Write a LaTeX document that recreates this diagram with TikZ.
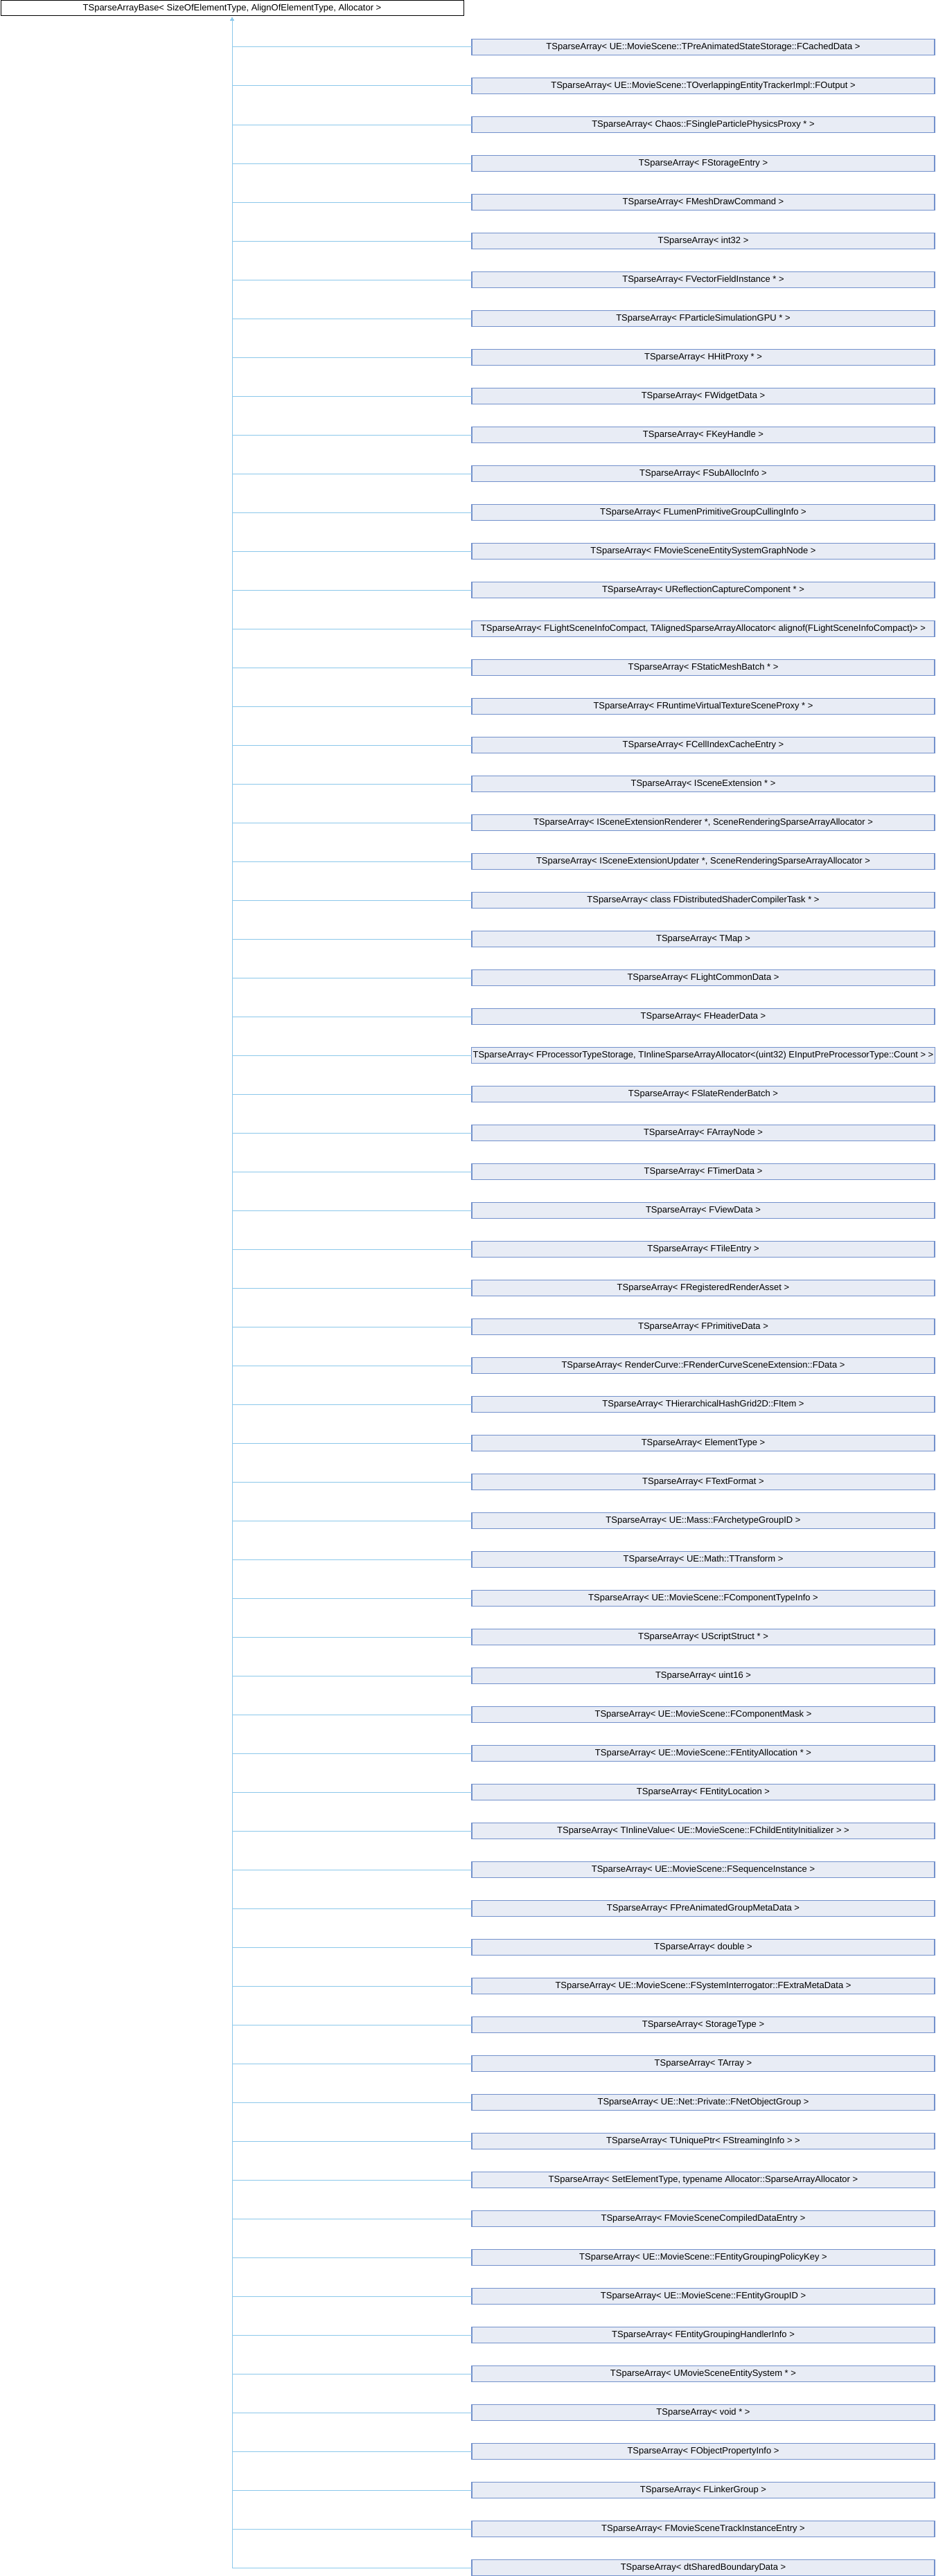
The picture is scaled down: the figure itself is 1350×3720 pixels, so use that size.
\documentclass[tikz,border=0pt]{standalone}
\usepackage{fontspec}
\setmainfont{Liberation Sans}
\usepackage{xcolor}
\usepackage{tikz}
\usetikzlibrary{arrows.meta,positioning}
\definecolor{edgeblue}{HTML}{8CC8EA}
\definecolor{boxfill}{HTML}{E8ECF5}
\definecolor{boxline}{HTML}{7391CC}

\begin{document}
\begin{tikzpicture}[
    x=1pt,y=1pt,node distance=33.5pt,
    parentbox/.style={draw=black,line width=1pt,fill=white,minimum width=668pt,
                      minimum height=22pt,inner sep=0pt,outer sep=0pt,
                      font=\fontsize{13pt}{15pt}\selectfont},
    childbox/.style={draw=boxline,line width=1.3pt,fill=boxfill,minimum width=668pt,
                     minimum height=22.5pt,inner xsep=2pt,inner ysep=0pt,outer sep=0pt,
                     font=\fontsize{13pt}{15pt}\selectfont},
    inh/.style={-{Latex[length=5pt,width=6pt]},shorten >=2pt,line width=1pt,color=edgeblue}
  ]
    \useasboundingbox (0,0) rectangle (1350,-3720);
    \node[parentbox] (base) at (335,-12) {TSparseArrayBase< SizeOfElementType, AlignOfElementType, Allocator >};
    \node[childbox,below right=33.75pt and 12pt of base.south east] (cached) {TSparseArray< UE::MovieScene::TPreAnimatedStateStorage::FCachedData >};
    \node[childbox,below=of cached] (overlap) {TSparseArray< UE::MovieScene::TOverlappingEntityTrackerImpl::FOutput >};
    \node[childbox,below=of overlap] (chaos) {TSparseArray< Chaos::FSingleParticlePhysicsProxy * >};
    \node[childbox,below=of chaos] (storage) {TSparseArray< FStorageEntry >};
    \node[childbox,below=of storage] (meshdraw) {TSparseArray< FMeshDrawCommand >};
    \node[childbox,below=of meshdraw] (int32) {TSparseArray< int32 >};
    \node[childbox,below=of int32] (vecfield) {TSparseArray< FVectorFieldInstance * >};
    \node[childbox,below=of vecfield] (partsim) {TSparseArray< FParticleSimulationGPU * >};
    \node[childbox,below=of partsim] (hitproxy) {TSparseArray< HHitProxy * >};
    \node[childbox,below=of hitproxy] (widget) {TSparseArray< FWidgetData >};
    \node[childbox,below=of widget] (keyhandle) {TSparseArray< FKeyHandle >};
    \node[childbox,below=of keyhandle] (suballoc) {TSparseArray< FSubAllocInfo >};
    \node[childbox,below=of suballoc] (lumen) {TSparseArray< FLumenPrimitiveGroupCullingInfo >};
    \node[childbox,below=of lumen] (graphnode) {TSparseArray< FMovieSceneEntitySystemGraphNode >};
    \node[childbox,below=of graphnode] (reflcap) {TSparseArray< UReflectionCaptureComponent * >};
    \node[childbox,below=of reflcap] (lightinfo) {TSparseArray< FLightSceneInfoCompact, TAlignedSparseArrayAllocator< alignof(FLightSceneInfoCompact)> >};
    \node[childbox,below=of lightinfo] (meshbatch) {TSparseArray< FStaticMeshBatch * >};
    \node[childbox,below=of meshbatch] (rvtproxy) {TSparseArray< FRuntimeVirtualTextureSceneProxy * >};
    \node[childbox,below=of rvtproxy] (cellidx) {TSparseArray< FCellIndexCacheEntry >};
    \node[childbox,below=of cellidx] (sceneext) {TSparseArray< ISceneExtension * >};
    \node[childbox,below=of sceneext] (extrender) {TSparseArray< ISceneExtensionRenderer *, SceneRenderingSparseArrayAllocator >};
    \node[childbox,below=of extrender] (extupdate) {TSparseArray< ISceneExtensionUpdater *, SceneRenderingSparseArrayAllocator >};
    \node[childbox,below=of extupdate] (shadertask) {TSparseArray< class FDistributedShaderCompilerTask * >};
    \node[childbox,below=of shadertask] (tmap) {TSparseArray< TMap >};
    \node[childbox,below=of tmap] (lightcommon) {TSparseArray< FLightCommonData >};
    \node[childbox,below=of lightcommon] (header) {TSparseArray< FHeaderData >};
    \node[childbox,below=of header] (preproc) {TSparseArray< FProcessorTypeStorage, TInlineSparseArrayAllocator<(uint32) EInputPreProcessorType::Count > >};
    \node[childbox,below=of preproc] (slatebatch) {TSparseArray< FSlateRenderBatch >};
    \node[childbox,below=of slatebatch] (arraynode) {TSparseArray< FArrayNode >};
    \node[childbox,below=of arraynode] (timer) {TSparseArray< FTimerData >};
    \node[childbox,below=of timer] (view) {TSparseArray< FViewData >};
    \node[childbox,below=of view] (tile) {TSparseArray< FTileEntry >};
    \node[childbox,below=of tile] (renderasset) {TSparseArray< FRegisteredRenderAsset >};
    \node[childbox,below=of renderasset] (primdata) {TSparseArray< FPrimitiveData >};
    \node[childbox,below=of primdata] (curvedata) {TSparseArray< RenderCurve::FRenderCurveSceneExtension::FData >};
    \node[childbox,below=of curvedata] (hashgrid) {TSparseArray< THierarchicalHashGrid2D::FItem >};
    \node[childbox,below=of hashgrid] (elemtype) {TSparseArray< ElementType >};
    \node[childbox,below=of elemtype] (textfmt) {TSparseArray< FTextFormat >};
    \node[childbox,below=of textfmt] (archgroup) {TSparseArray< UE::Mass::FArchetypeGroupID >};
    \node[childbox,below=of archgroup] (transform) {TSparseArray< UE::Math::TTransform >};
    \node[childbox,below=of transform] (comptype) {TSparseArray< UE::MovieScene::FComponentTypeInfo >};
    \node[childbox,below=of comptype] (scriptstruct) {TSparseArray< UScriptStruct * >};
    \node[childbox,below=of scriptstruct] (uint16) {TSparseArray< uint16 >};
    \node[childbox,below=of uint16] (compmask) {TSparseArray< UE::MovieScene::FComponentMask >};
    \node[childbox,below=of compmask] (entalloc) {TSparseArray< UE::MovieScene::FEntityAllocation * >};
    \node[childbox,below=of entalloc] (entloc) {TSparseArray< FEntityLocation >};
    \node[childbox,below=of entloc] (childinit) {TSparseArray< TInlineValue< UE::MovieScene::FChildEntityInitializer > >};
    \node[childbox,below=of childinit] (seqinst) {TSparseArray< UE::MovieScene::FSequenceInstance >};
    \node[childbox,below=of seqinst] (groupmeta) {TSparseArray< FPreAnimatedGroupMetaData >};
    \node[childbox,below=of groupmeta] (double) {TSparseArray< double >};
    \node[childbox,below=of double] (extrameta) {TSparseArray< UE::MovieScene::FSystemInterrogator::FExtraMetaData >};
    \node[childbox,below=of extrameta] (stortype) {TSparseArray< StorageType >};
    \node[childbox,below=of stortype] (tarray) {TSparseArray< TArray >};
    \node[childbox,below=of tarray] (netgroup) {TSparseArray< UE::Net::Private::FNetObjectGroup >};
    \node[childbox,below=of netgroup] (streaming) {TSparseArray< TUniquePtr< FStreamingInfo > >};
    \node[childbox,below=of streaming] (setelem) {TSparseArray< SetElementType, typename Allocator::SparseArrayAllocator >};
    \node[childbox,below=of setelem] (compiled) {TSparseArray< FMovieSceneCompiledDataEntry >};
    \node[childbox,below=of compiled] (policykey) {TSparseArray< UE::MovieScene::FEntityGroupingPolicyKey >};
    \node[childbox,below=of policykey] (groupid) {TSparseArray< UE::MovieScene::FEntityGroupID >};
    \node[childbox,below=of groupid] (grouphandler) {TSparseArray< FEntityGroupingHandlerInfo >};
    \node[childbox,below=of grouphandler] (entsystem) {TSparseArray< UMovieSceneEntitySystem * >};
    \node[childbox,below=of entsystem] (voidptr) {TSparseArray< void * >};
    \node[childbox,below=of voidptr] (objprop) {TSparseArray< FObjectPropertyInfo >};
    \node[childbox,below=of objprop] (linker) {TSparseArray< FLinkerGroup >};
    \node[childbox,below=of linker] (trackinst) {TSparseArray< FMovieSceneTrackInstanceEntry >};
    \node[childbox,below=of trackinst] (boundary) {TSparseArray< dtSharedBoundaryData >};
    \draw[inh] (cached) -| (base);
    \draw[inh] (overlap) -| (base);
    \draw[inh] (chaos) -| (base);
    \draw[inh] (storage) -| (base);
    \draw[inh] (meshdraw) -| (base);
    \draw[inh] (int32) -| (base);
    \draw[inh] (vecfield) -| (base);
    \draw[inh] (partsim) -| (base);
    \draw[inh] (hitproxy) -| (base);
    \draw[inh] (widget) -| (base);
    \draw[inh] (keyhandle) -| (base);
    \draw[inh] (suballoc) -| (base);
    \draw[inh] (lumen) -| (base);
    \draw[inh] (graphnode) -| (base);
    \draw[inh] (reflcap) -| (base);
    \draw[inh] (lightinfo) -| (base);
    \draw[inh] (meshbatch) -| (base);
    \draw[inh] (rvtproxy) -| (base);
    \draw[inh] (cellidx) -| (base);
    \draw[inh] (sceneext) -| (base);
    \draw[inh] (extrender) -| (base);
    \draw[inh] (extupdate) -| (base);
    \draw[inh] (shadertask) -| (base);
    \draw[inh] (tmap) -| (base);
    \draw[inh] (lightcommon) -| (base);
    \draw[inh] (header) -| (base);
    \draw[inh] (preproc) -| (base);
    \draw[inh] (slatebatch) -| (base);
    \draw[inh] (arraynode) -| (base);
    \draw[inh] (timer) -| (base);
    \draw[inh] (view) -| (base);
    \draw[inh] (tile) -| (base);
    \draw[inh] (renderasset) -| (base);
    \draw[inh] (primdata) -| (base);
    \draw[inh] (curvedata) -| (base);
    \draw[inh] (hashgrid) -| (base);
    \draw[inh] (elemtype) -| (base);
    \draw[inh] (textfmt) -| (base);
    \draw[inh] (archgroup) -| (base);
    \draw[inh] (transform) -| (base);
    \draw[inh] (comptype) -| (base);
    \draw[inh] (scriptstruct) -| (base);
    \draw[inh] (uint16) -| (base);
    \draw[inh] (compmask) -| (base);
    \draw[inh] (entalloc) -| (base);
    \draw[inh] (entloc) -| (base);
    \draw[inh] (childinit) -| (base);
    \draw[inh] (seqinst) -| (base);
    \draw[inh] (groupmeta) -| (base);
    \draw[inh] (double) -| (base);
    \draw[inh] (extrameta) -| (base);
    \draw[inh] (stortype) -| (base);
    \draw[inh] (tarray) -| (base);
    \draw[inh] (netgroup) -| (base);
    \draw[inh] (streaming) -| (base);
    \draw[inh] (setelem) -| (base);
    \draw[inh] (compiled) -| (base);
    \draw[inh] (policykey) -| (base);
    \draw[inh] (groupid) -| (base);
    \draw[inh] (grouphandler) -| (base);
    \draw[inh] (entsystem) -| (base);
    \draw[inh] (voidptr) -| (base);
    \draw[inh] (objprop) -| (base);
    \draw[inh] (linker) -| (base);
    \draw[inh] (trackinst) -| (base);
    \draw[inh] (boundary) -| (base);
  \end{tikzpicture}
\end{document}
